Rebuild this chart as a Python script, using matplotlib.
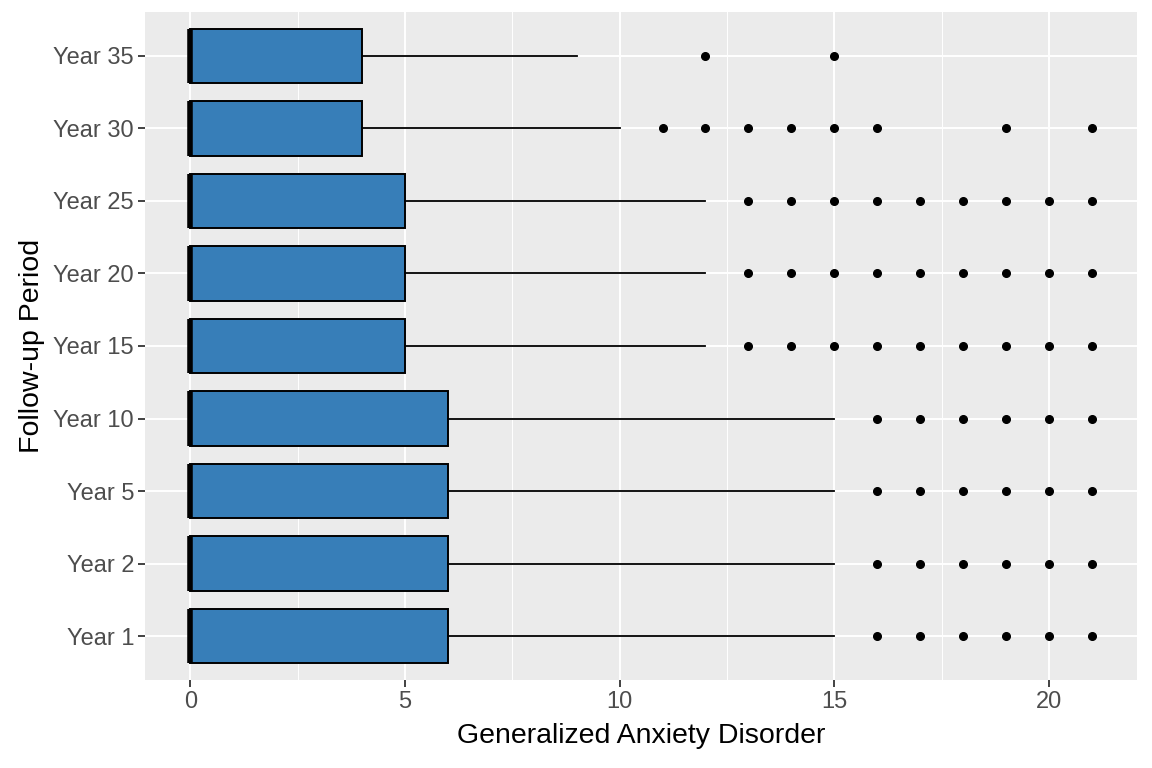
import numpy as np
import matplotlib
matplotlib.use("Agg")
import matplotlib.pyplot as plt

plt.rcParams['font.family'] = ['Liberation Sans', 'DejaVu Sans']

# datos
periodos = ["Year 1", "Year 2", "Year 5", "Year 10", "Year 15",
            "Year 20", "Year 25", "Year 30", "Year 35"]
minimo = [0, 0, 0, 0, 0, 0, 0, 0, 0]
q1 = [0, 0, 0, 0, 0, 0, 0, 0, 0]
mediana = [0, 0, 0, 0, 0, 0, 0, 0, 0]
q3 = [6, 6, 6, 6, 5, 5, 5, 4, 4]
bigote_sup = [15, 15, 15, 15, 12, 12, 12, 10, 9]
atipicos = [
    [16, 17, 18, 19, 20, 21],
    [16, 17, 18, 19, 20, 21],
    [16, 17, 18, 19, 20, 21],
    [16, 17, 18, 19, 20, 21],
    [13, 14, 15, 16, 17, 18, 19, 20, 21],
    [13, 14, 15, 16, 17, 18, 19, 20, 21],
    [13, 14, 15, 16, 17, 18, 19, 20, 21],
    [11, 12, 13, 14, 15, 16, 19, 21],
    [12, 15],
]
ticks_x = [0, 5, 10, 15, 20]

stats = []
for i, p in enumerate(periodos):
    stats.append({
        "label": p,
        "whislo": minimo[i],
        "q1": q1[i],
        "med": mediana[i],
        "q3": q3[i],
        "whishi": bigote_sup[i],
        "fliers": atipicos[i],
    })

fig, ax = plt.subplots(figsize=(11.52, 7.68), dpi=100)
fig.subplots_adjust(left=0.126, right=0.987, top=0.984, bottom=0.115)
ax.set_facecolor("#EBEBEB")

posiciones = np.arange(1, len(periodos) + 1)
ax.bxp(stats, positions=posiciones, vert=False, widths=0.75,
       patch_artist=True, showcaps=False,
       boxprops=dict(facecolor="#377EB8", edgecolor="black", linewidth=1.4),
       whiskerprops=dict(color="black", linewidth=1.3),
       medianprops=dict(color="black", linewidth=4),
       flierprops=dict(marker="o", markerfacecolor="black",
                       markeredgecolor="black", markersize=5.5),
       zorder=3)

ax.set_xlim(-1.05, 22.05)
ax.set_ylim(0.4, len(periodos) + 0.6)
ax.set_xticks(ticks_x)
ax.set_xticks([2.5, 7.5, 12.5, 17.5], minor=True)
ax.set_yticks(posiciones)
ax.set_yticklabels(periodos)
ax.grid(True, which="major", color="white", linewidth=1.4, zorder=0)
ax.grid(True, which="minor", axis="x", color="white", linewidth=0.7, zorder=0)
ax.set_axisbelow(True)
for s in ax.spines.values():
    s.set_visible(False)
ax.tick_params(axis="both", which="major", colors="#333333", labelsize=17,
               length=5, width=1.3, pad=3, labelcolor="#4D4D4D")
ax.tick_params(axis="x", which="minor", length=0)
ax.set_xlabel("Generalized Anxiety Disorder", fontsize=20.5, labelpad=7)
ax.set_ylabel("Follow-up Period", fontsize=20.5, labelpad=6)

plt.savefig("out.png", dpi=100)
